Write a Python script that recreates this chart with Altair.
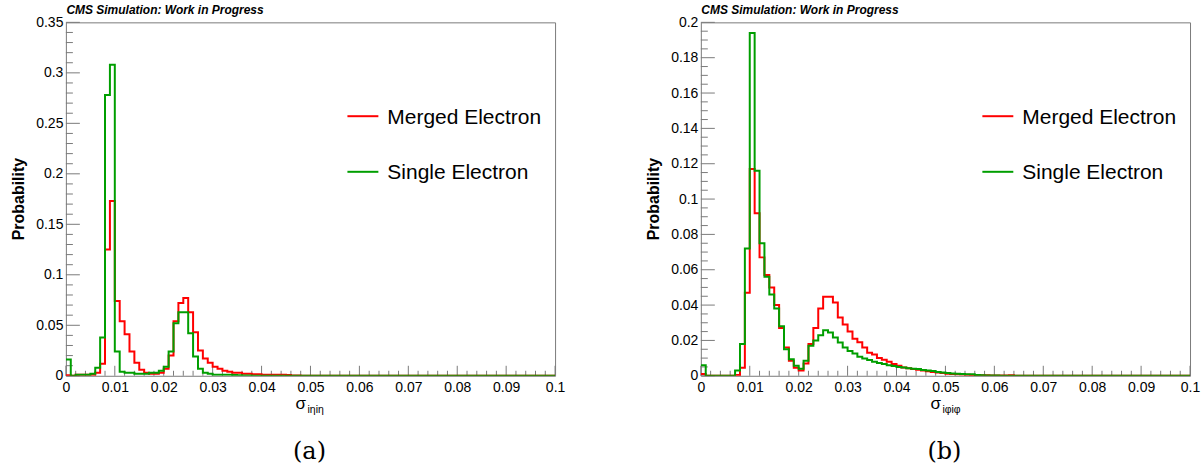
import altair as alt
import pandas as pd

# ---------------- data ----------------
bin_edges = [round(i * 0.001, 3) for i in range(101)]

left_merged = [
    0.0005, 0.0, 0.001, 0.001, 0.001, 0.001, 0.003, 0.012, 0.125, 0.173,
    0.074, 0.054, 0.041, 0.024, 0.013, 0.006, 0.003, 0.002, 0.002, 0.003,
    0.007, 0.020, 0.054, 0.072, 0.077, 0.063, 0.043, 0.025, 0.017, 0.013,
    0.009, 0.007, 0.005, 0.004, 0.003, 0.003, 0.002, 0.002, 0.0015, 0.0015,
    0.001, 0.001, 0.001, 0.001, 0.001, 0.0008, 0.0003, 0.0002, 0.0001, 0.0,
    0.0, 0.0, 0.0, 0.0, 0.0, 0.0, 0.0, 0.0, 0.0, 0.0,
    0.0, 0.0, 0.0, 0.0, 0.0, 0.0, 0.0, 0.0, 0.0, 0.0,
    0.0, 0.0, 0.0, 0.0, 0.0, 0.0, 0.0, 0.0, 0.0, 0.0,
    0.0, 0.0, 0.0, 0.0, 0.0, 0.0, 0.0, 0.0, 0.0, 0.0,
    0.0, 0.0, 0.0, 0.0, 0.0, 0.0, 0.0, 0.0, 0.0, 0.0,
]
left_single = [
    0.016, 0.0, 0.001, 0.001, 0.001, 0.002, 0.008, 0.038, 0.278, 0.308,
    0.024, 0.004, 0.003, 0.003, 0.002, 0.002, 0.002, 0.003, 0.003, 0.005,
    0.009, 0.024, 0.052, 0.063, 0.063, 0.042, 0.019, 0.007, 0.003, 0.002,
    0.001, 0.001, 0.001, 0.001, 0.0008, 0.0005, 0.0003, 0.0002, 0.0001, 0.0001,
    0.0, 0.0, 0.0, 0.0, 0.0, 0.0, 0.0, 0.0, 0.0, 0.0,
    0.0, 0.0, 0.0, 0.0, 0.0, 0.0, 0.0, 0.0, 0.0, 0.0,
    0.0, 0.0, 0.0, 0.0, 0.0, 0.0, 0.0, 0.0, 0.0, 0.0,
    0.0, 0.0, 0.0, 0.0, 0.0, 0.0, 0.0, 0.0, 0.0, 0.0,
    0.0, 0.0, 0.0, 0.0, 0.0, 0.0, 0.0, 0.0, 0.0, 0.0,
    0.0, 0.0, 0.0, 0.0, 0.0, 0.0, 0.0, 0.0, 0.0, 0.0,
]
right_merged = [
    0.001, 0.0, 0.0, 0.0, 0.0, 0.0, 0.0, 0.0005, 0.0045, 0.047,
    0.117, 0.092, 0.067, 0.057, 0.050, 0.040, 0.027, 0.016, 0.0085, 0.0045,
    0.003, 0.007, 0.018, 0.027, 0.038, 0.0447, 0.0447, 0.0415, 0.033, 0.029,
    0.025, 0.021, 0.019, 0.016, 0.013, 0.012, 0.010, 0.009, 0.008, 0.0066,
    0.0057, 0.0047, 0.0043, 0.0038, 0.0034, 0.003, 0.0026, 0.0022, 0.0018, 0.0015,
    0.0012, 0.001, 0.0008, 0.0007, 0.0006, 0.0005, 0.0004, 0.0003, 0.0003, 0.0002,
    0.0002, 0.0002, 0.0001, 0.0003, 0.0, 0.0, 0.0, 0.0, 0.0, 0.0,
    0.0, 0.0, 0.0, 0.0, 0.0, 0.0, 0.0, 0.0, 0.0, 0.0,
    0.0, 0.0, 0.0, 0.0, 0.0, 0.0, 0.0, 0.0, 0.0, 0.0,
    0.0, 0.0, 0.0, 0.0, 0.0, 0.0, 0.0, 0.0, 0.0, 0.0,
]
right_single = [
    0.006, 0.0, 0.0, 0.0, 0.0, 0.0, 0.0, 0.003, 0.018, 0.072,
    0.194, 0.116, 0.075, 0.056, 0.046, 0.038, 0.028, 0.015, 0.0094, 0.0057,
    0.004, 0.0085, 0.017, 0.020, 0.023, 0.0257, 0.0245, 0.0217, 0.0188, 0.016,
    0.014, 0.0126, 0.0108, 0.0098, 0.0089, 0.0079, 0.0072, 0.0066, 0.006, 0.0055,
    0.005, 0.0047, 0.0043, 0.004, 0.0038, 0.0033, 0.003, 0.0027, 0.0022, 0.0018,
    0.0015, 0.0013, 0.0012, 0.001, 0.0009, 0.0008, 0.0004, 0.0003, 0.0002, 0.0002,
    0.0001, 0.0, 0.0, 0.0, 0.0, 0.0, 0.0, 0.0, 0.0, 0.0,
    0.0, 0.0, 0.0, 0.0, 0.0, 0.0, 0.0, 0.0, 0.0, 0.0,
    0.0, 0.0, 0.0, 0.0, 0.0, 0.0, 0.0, 0.0, 0.0, 0.0,
    0.0, 0.0, 0.0, 0.0, 0.0, 0.0, 0.0, 0.0, 0.0, 0.0,
]

series_names = ["Merged Electron", "Single Electron"]
series_colors = ["#ff0000", "#009e00"]

x_major = [0.0, 0.01, 0.02, 0.03, 0.04, 0.05, 0.06, 0.07, 0.08, 0.09, 0.1]
x_minor = [round(i * 0.002, 3) for i in range(51) if i % 5]
left_y_major = [0.0, 0.05, 0.1, 0.15, 0.2, 0.25, 0.3, 0.35]
left_y_minor = [round(i * 0.01, 2) for i in range(36) if i % 5]
right_y_major = [0.0, 0.02, 0.04, 0.06, 0.08, 0.1, 0.12, 0.14, 0.16, 0.18, 0.2]
right_y_minor = [round(i * 0.005, 3) for i in range(41) if i % 4]

header = "CMS Simulation: Work in Progress"
y_title = "Probability"
x_sym = "σ"
x_subs = ["iηiη", "iφiφ"]
captions = ["(a)", "(b)"]

# ---------------- styling ----------------
W, H = 490, 354
FRAME = "#7a7a7a"
FONT = "Liberation Sans"


def text_layer(txt, x, y, **kw):
    return alt.Chart(pd.DataFrame({"t": [txt]})).mark_text(**kw).encode(
        text="t:N", x=alt.value(x), y=alt.value(y)
    )


def panel(merged, single, ymax, ymaj, ymin, sub, cap, anchor):
    xs = alt.Scale(domain=[0, 0.1], nice=False, zero=False)
    ys = alt.Scale(domain=[0, ymax], nice=False)
    xax = alt.Axis(values=x_major, format="~g", ticks=False, domain=False, grid=False,
                   labelFontSize=14, labelFont=FONT, labelColor="black", labelPadding=5,
                   labelFlush=False, labelOverlap=False, labelBound=False, title=None)
    yax = alt.Axis(values=ymaj, format="~g", ticks=False, domain=False, grid=False,
                   labelFontSize=14, labelFont=FONT, labelColor="black", labelPadding=3,
                   labelFlush=False, labelOverlap=False, labelBound=False, title=None)

    rows = []
    for name, vals in zip(series_names, [merged, single]):
        for e, v in zip(bin_edges, vals + [vals[-1]]):
            rows.append({"x": e, "p": v, "series": name})
    df = pd.DataFrame(rows)

    hist = alt.Chart(df).mark_line(interpolate="step-after", strokeWidth=2, clip=True).encode(
        x=alt.X("x:Q", scale=xs, axis=xax),
        y=alt.Y("p:Q", scale=ys, axis=yax),
        color=alt.Color("series:N", scale=alt.Scale(domain=series_names, range=series_colors),
                        legend=None),
    )

    def xticks(vals, length):
        return alt.Chart(pd.DataFrame({"x": vals})).mark_rule(color=FRAME, strokeWidth=1).encode(
            x=alt.X("x:Q", scale=xs, axis=xax), y=alt.value(H), y2=alt.value(H - length))

    def yticks(vals, length):
        return alt.Chart(pd.DataFrame({"p": vals})).mark_rule(color=FRAME, strokeWidth=1).encode(
            y=alt.Y("p:Q", scale=ys, axis=yax), x=alt.value(0), x2=alt.value(length))

    layers = [xticks(x_major, 10), xticks(x_minor, 5), yticks(ymaj, 14), yticks(ymin, 7), hist]

    # legend
    for i, (name, col) in enumerate(zip(series_names, series_colors)):
        ly = 94 + 55.7 * i
        layers.append(alt.Chart(pd.DataFrame({"s": [name]})).mark_rule(color=col, strokeWidth=2).encode(
            x=alt.value(282), x2=alt.value(313), y=alt.value(ly)))
        layers.append(text_layer(name, 322, ly + 7.5, font=FONT, fontSize=21, align="left",
                                 baseline="alphabetic", color="black"))

    layers += [
        text_layer(header, 0.5, -8.5, font=FONT, fontSize=12, fontWeight="bold",
                   fontStyle="italic", align="left", baseline="alphabetic", color="black"),
        text_layer(y_title, -47, 177, font=FONT, fontSize=16, fontWeight="bold", angle=270,
                   align="center", baseline="middle", color="black"),
        text_layer(x_sym, 230, 387, font=FONT, fontSize=17, align="left",
                   baseline="alphabetic", color="black"),
        text_layer(sub, 242, 391, font=FONT, fontSize=10.5, align="left",
                   baseline="alphabetic", color="black"),
        text_layer(cap, 244, 430, font="DejaVu Serif", fontSize=24, align="center",
                   baseline="middle", color="black"),
    ]
    # invisible (white) corner anchor fixing the page extent
    ax, ay = anchor
    layers.append(alt.Chart(pd.DataFrame({"a": [0]})).mark_rule(color="white", strokeWidth=1).encode(
        x=alt.value(ax), x2=alt.value(ax + 0.5), y=alt.value(ay)))
    return alt.layer(*layers).properties(width=W, height=H)


left = panel(left_merged, left_single, 0.35, left_y_major, left_y_minor,
             x_subs[0], captions[0], (-64.5, -20.5))
right = panel(right_merged, right_single, 0.2, right_y_major, right_y_minor,
              x_subs[1], captions[1], (502.5, 450.5))

chart = alt.hconcat(left, right, spacing=146, bounds="flush").properties(
    padding=0, background="white"
).configure_view(stroke=FRAME, strokeWidth=1)

chart.save("out.html", embed_options={"renderer": "svg", "actions": False})
